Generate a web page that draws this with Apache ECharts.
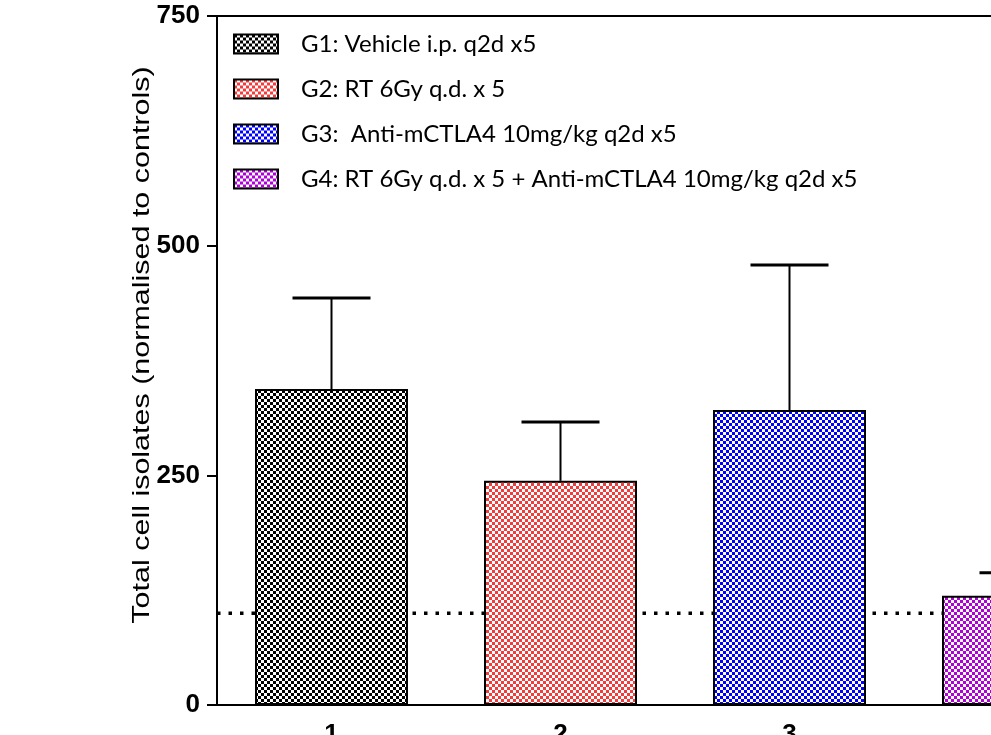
<!DOCTYPE html>
<html>
<head>
<meta charset="utf-8">
<script src="https://cdn.jsdelivr.net/npm/echarts@6/dist/echarts.min.js"></script>
<style>
html,body{margin:0;padding:0;background:#fff;}
#c{width:991px;height:735px;}
</style>
</head>
<body>
<div id="c"></div>
<script>
// ---- data ----
const categories = ['1', '2', '3', '4'];
const groupNames = [
  'G1: Vehicle i.p. q2d x5',
  'G2: RT 6Gy q.d. x 5',
  'G3:  Anti-mCTLA4 10mg/kg q2d x5',
  'G4: RT 6Gy q.d. x 5 + Anti-mCTLA4 10mg/kg q2d x5'
];
const means = [344, 244, 321, 119];
const upperErr = [443, 308, 479, 144];
const controlLevel = [100];
const yTicks = [0, 250, 500, 750];
const yTitle = 'Total cell isolates (normalised to controls)';
const groupColors = ['#000000', '#f23c3c', '#0000ff', '#b000d8'];

function checker(color, s) {
  const c = document.createElement('canvas');
  c.width = s * 2; c.height = s * 2;
  const g = c.getContext('2d');
  g.fillStyle = '#ffffff'; g.fillRect(0, 0, s * 2, s * 2);
  g.fillStyle = color;
  g.fillRect(0, 0, s, s);
  g.fillRect(s, s, s, s);
  return { image: c, repeat: 'repeat' };
}

const chart = echarts.init(document.getElementById('c'), null, { renderer: 'canvas' });

const barSeries = groupNames.map((name, i) => ({
  name: name,
  type: 'bar',
  stack: 'g',
  barWidth: 153,
  z: 3,
  data: categories.map((c, j) => (j === i ? means[j] : '-')),
  itemStyle: {
    color: checker(groupColors[i], 3),
    borderColor: '#000',
    borderWidth: 2
  }
}));

const option = {
  animation: false,
  backgroundColor: '#fff',
  grid: {
    left: 217, top: 16, bottom: 30, right: -142,
    show: true, borderColor: '#000', borderWidth: 2,
    containLabel: false, outerBoundsMode: 'none'
  },
  graphic: [{
    type: 'text',
    x: 142, y: 345,
    rotation: Math.PI / 2,
    scaleX: 1.27,
    style: {
      text: yTitle,
      fontFamily: 'Liberation Sans', fontSize: 24, fill: '#000',
      align: 'center', verticalAlign: 'middle'
    }
  }],
  legend: {
    orient: 'vertical',
    left: 233, top: 32,
    padding: 0,
    itemWidth: 44, itemHeight: 19, itemGap: 21,
    icon: 'rect',
    itemStyle: { borderColor: '#000', borderWidth: 2 },
    textStyle: { fontFamily: 'Lato', fontSize: 24, lineHeight: 19, color: '#000', padding: [0, 0, 0, 18] },
    data: groupNames
  },
  xAxis: {
    type: 'category',
    data: categories,
    axisLine: { lineStyle: { color: '#000', width: 2 } },
    axisTick: { alignWithLabel: true, length: 10, lineStyle: { color: '#000', width: 2 } },
    axisLabel: { color: '#000', fontFamily: 'Liberation Sans', fontWeight: 'bold', fontSize: 26, margin: 17 },
    splitLine: { show: false }
  },
  yAxis: {
    type: 'value',
    min: yTicks[0], max: yTicks[yTicks.length - 1], interval: 250,
    axisLine: { show: true, lineStyle: { color: '#000', width: 2 } },
    axisTick: { show: true, length: 10, lineStyle: { color: '#000', width: 2 } },
    axisLabel: { color: '#000', fontFamily: 'Liberation Sans', fontWeight: 'bold', fontSize: 26, margin: 17 },
    splitLine: { show: false }
  },
  series: [
    {
      type: 'custom',
      name: 'control',
      z: 1,
      silent: true,
      data: controlLevel.map(v => [0, v]),
      renderItem: function (params, api) {
        const cs = params.coordSys;
        const y = api.coord([0, api.value(1)])[1];
        return {
          type: 'line',
          shape: { x1: cs.x, y1: y, x2: cs.x + cs.width, y2: y },
          style: { stroke: '#000', lineWidth: 3.5, lineDash: [3.5, 8] }
        };
      }
    },
    ...barSeries,
    {
      type: 'custom',
      name: 'err',
      z: 4,
      silent: true,
      data: categories.map((c, i) => [i, means[i], upperErr[i]]),
      renderItem: function (params, api) {
        const p0 = api.coord([api.value(0), api.value(1)]);
        const p1 = api.coord([api.value(0), api.value(2)]);
        const hw = 39;
        return {
          type: 'group',
          children: [
            { type: 'line', shape: { x1: p0[0], y1: p0[1], x2: p1[0], y2: p1[1] }, style: { stroke: '#000', lineWidth: 2 } },
            { type: 'line', shape: { x1: p1[0] - hw, y1: p1[1], x2: p1[0] + hw, y2: p1[1] }, style: { stroke: '#000', lineWidth: 3 } }
          ]
        };
      }
    }
  ]
};
chart.setOption(option);
</script>
</body>
</html>
